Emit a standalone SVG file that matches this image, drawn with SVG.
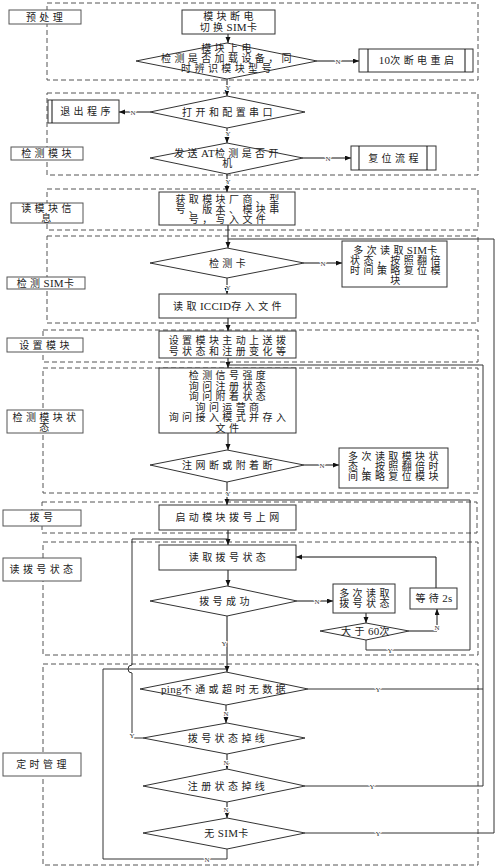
<svg xmlns="http://www.w3.org/2000/svg" width="500" height="868" viewBox="0 0 500 868">
<defs>
<marker id="ah" markerUnits="userSpaceOnUse" markerWidth="6" markerHeight="6" refX="6" refY="2.5" orient="auto"><path d="M0,0 L6,2.5 L0,5 z" fill="#111"/></marker>
<style>
.sec{fill:none;stroke:#555;stroke-width:1;stroke-dasharray:5 3}
.lbl{fill:#fff;stroke:#555;stroke-width:1}
.box{fill:#fff;stroke:#333;stroke-width:1}
.t{font-family:"Liberation Serif","Noto Sans CJK SC",serif;font-size:10px;letter-spacing:3.4px;fill:#222;text-anchor:middle}
.l{font-size:11px;letter-spacing:0.3px}
.yn{font-family:"Liberation Serif",serif;font-size:7px;fill:#333;text-anchor:middle;stroke:#fff;stroke-width:2;paint-order:stroke}
.ln{fill:none;stroke:#111;stroke-width:1}
.lp{fill:none;stroke:#333;stroke-width:1}
</style>
</defs>
<rect width="500" height="868" fill="#fff"/>
<g id="sections">
<rect class="sec" x="47" y="3" width="431" height="77"/>
<rect class="sec" x="47" y="93" width="431" height="82"/>
<rect class="sec" x="47" y="189" width="431" height="41"/>
<rect class="sec" x="47" y="236" width="431" height="87"/>
<rect class="sec" x="43" y="330" width="435" height="32"/>
<rect class="sec" x="43" y="368" width="435" height="125"/>
<rect class="sec" x="42" y="502" width="435" height="31"/>
<rect class="sec" x="43" y="542" width="435" height="113"/>
<rect class="sec" x="43" y="664" width="435" height="201"/>
</g>
<g id="connectors">
<path class="ln" marker-end="url(#ah)" d="M228,34 V43"/>
<path class="ln" marker-end="url(#ah)" d="M317,61 H359"/>
<path class="ln" marker-end="url(#ah)" d="M227,79 V96"/>
<path class="ln" marker-end="url(#ah)" d="M150,112 H119"/>
<path class="ln" marker-end="url(#ah)" d="M227,128 V143"/>
<path class="ln" marker-end="url(#ah)" d="M303,158 H351"/>
<path class="ln" marker-end="url(#ah)" d="M227,174 V192"/>
<path class="ln" marker-end="url(#ah)" d="M228,225 V248"/>
<path class="ln" marker-end="url(#ah)" d="M304,263 H342"/>
<path class="ln" marker-end="url(#ah)" d="M227,278 V294"/>
<path class="ln" marker-end="url(#ah)" d="M228,318 V331"/>
<path class="ln" marker-end="url(#ah)" d="M228,358 V368"/>
<path class="ln" marker-end="url(#ah)" d="M228,433 V450"/>
<path class="ln" marker-end="url(#ah)" d="M304,465 H339"/>
<path class="ln" marker-end="url(#ah)" d="M227,482 V505"/>
<path class="ln" marker-end="url(#ah)" d="M228,530 V545"/>
<path class="ln" marker-end="url(#ah)" d="M228,570 V586"/>
<path class="ln" marker-end="url(#ah)" d="M297,601 H333"/>
<path class="ln" marker-end="url(#ah)" d="M366,613 V623"/>
<path class="ln" marker-end="url(#ah)" d="M409,631 H437 V609"/>
<path class="ln" marker-end="url(#ah)" d="M436,588 V557 H296"/>
<path class="ln" marker-end="url(#ah)" d="M227,616 V672"/>
<path class="ln" marker-end="url(#ah)" d="M226,705 V723"/>
<path class="ln" marker-end="url(#ah)" d="M227,754 V769"/>
<path class="ln" marker-end="url(#ah)" d="M227,802 V818"/>
<path class="lp" d="M305,833 H494 V239 H228"/>
<path class="lp" d="M305,786 H483 V365 H228"/>
<path class="lp" d="M308,689 H483"/>
<path class="lp" d="M366,640 V650 H470 V500 H228"/>
<path class="lp" d="M143,738 H132 V673 A4,4 0 0 1 132,665 V539 H228"/>
<path class="lp" d="M227,849 V859 H103 V669 H227"/>
<text class="yn" x="338" y="63.5">N</text>
<text class="yn" x="228" y="89.5">Y</text>
<text class="yn" x="133" y="114.5">N</text>
<text class="yn" x="228" y="135.5">Y</text>
<text class="yn" x="328" y="160.5">N</text>
<text class="yn" x="228" y="183.5">Y</text>
<text class="yn" x="323" y="265.5">N</text>
<text class="yn" x="228" y="289.5">Y</text>
<text class="yn" x="322" y="467.5">N</text>
<text class="yn" x="228" y="495.5">Y</text>
<text class="yn" x="317" y="603.5">N</text>
<text class="yn" x="437" y="629.5">N</text>
<text class="yn" x="390" y="652.5">Y</text>
<text class="yn" x="224" y="645.5">Y</text>
<text class="yn" x="132" y="737.5">Y</text>
<text class="yn" x="378" y="691.5">Y</text>
<text class="yn" x="226" y="715.5">N</text>
<text class="yn" x="226" y="764.5">N</text>
<text class="yn" x="372" y="788.5">Y</text>
<text class="yn" x="226" y="811.5">N</text>
<text class="yn" x="378" y="835.5">Y</text>
<text class="yn" x="207" y="861.5">N</text>
</g>
<g id="lbl-yuchuli"><rect class="lbl" x="9" y="10" width="72" height="14"/><text class="t" x="46" y="21">预处理</text></g>
<g id="n-duandian"><rect class="box" x="182" y="10" width="93" height="24"/><text class="t" x="230" y="20">模块断电</text><text class="t" x="230" y="31">切换<tspan class="l">SIM</tspan>卡</text></g>
<g id="d-shangdian"><polygon class="box" points="227,43 317,61 227,79 136,61"/><text class="t" x="228" y="52">模块上电</text><text class="t" x="228" y="62">检测是否加载设备，同</text><text class="t" x="228" y="72">时辨识模块型号</text></g>
<g id="n-10ci"><rect class="box" x="359" y="49" width="114" height="23"/><path class="ln" d="M368,49 V72 M465,49 V72"/><text class="t" x="418" y="64"><tspan class="l">10</tspan>次断电重启</text></g>
<g id="d-chuankou"><polygon class="box" points="227,96 305,112 227,128 150,112"/><text class="t" x="229" y="116">打开和配置串口</text></g>
<g id="n-tuichu"><rect class="box" x="48" y="100" width="71" height="23"/><path class="ln" d="M52,100 V123"/><text class="t" x="87" y="115">退出程序</text></g>
<g id="lbl-jiancemokuai"><rect class="lbl" x="11" y="147" width="72" height="13"/><text class="t" x="48" y="157">检测模块</text></g>
<g id="d-at"><polygon class="box" points="227,143 303,158 227,174 150,158"/><text class="t" x="228" y="157">发送<tspan class="l">AT</tspan>检测是否开</text><text class="t" x="229" y="167">机</text></g>
<g id="n-fuwei"><rect class="box" x="351" y="146" width="85" height="24"/><path class="ln" d="M359,146 V170 M427,146 V170"/><text class="t" x="395" y="162">复位流程</text></g>
<g id="lbl-dumokuai"><rect class="lbl" x="11" y="203" width="72" height="20"/><text class="t" x="48" y="211.5">读模块信</text><text class="t" x="48" y="221.5">息</text></g>
<g id="n-huoqu"><rect class="box" x="159" y="192" width="136" height="33"/><text class="t" x="229" y="202.5">获取模块厂商、型</text><text class="t" x="229" y="212.5">号、版本、模块串</text><text class="t" x="229" y="222.5">号，写入文件</text></g>
<g id="d-jianceka"><polygon class="box" points="227,248 304,263 227,278 150,263"/><text class="t" x="229" y="267">检测卡</text></g>
<g id="n-simfuwei"><rect class="box" x="342" y="241" width="105" height="46"/><text class="t" x="397" y="253.5">多次读取<tspan class="l">SIM</tspan>卡</text><text class="t" x="397" y="263.5">状态，按照翻倍</text><text class="t" x="397" y="273.5">时间策略复位模</text><text class="t" x="397" y="283.5">块</text></g>
<g id="lbl-sim"><rect class="lbl" x="7" y="277" width="78" height="12"/><text class="t" x="47" y="286.5">检测<tspan class="l">SIM</tspan>卡</text></g>
<g id="n-iccid"><rect class="box" x="159" y="294" width="137" height="24"/><text class="t" x="229" y="310">读取<tspan class="l">ICCID</tspan>存入文件</text></g>
<g id="lbl-shezhi"><rect class="lbl" x="7" y="338" width="76" height="14"/><text class="t" x="46" y="349">设置模块</text></g>
<g id="n-shezhi"><rect class="box" x="159" y="331" width="137" height="27"/><text class="t" x="229" y="344">设置模块主动上送拨</text><text class="t" x="229" y="355">号状态和注册变化等</text></g>
<g id="n-jiancexinhao"><rect class="box" x="159" y="368" width="137" height="65"/><text class="t" x="229" y="379">检测信号强度</text><text class="t" x="229" y="389.5">询问注册状态</text><text class="t" x="229" y="400">询问附着状态</text><text class="t" x="229" y="410.5">询问运营商</text><text class="t" x="229" y="421">询问接入模式并存入</text><text class="t" x="229" y="431.5">文件</text></g>
<g id="lbl-zhuangtai"><rect class="lbl" x="7" y="410" width="76" height="23"/><text class="t" x="46" y="420.5">检测模块状</text><text class="t" x="46" y="430.5">态</text></g>
<g id="d-zhuwang"><polygon class="box" points="227,450 304,465 227,482 150,465"/><text class="t" x="229" y="469">注网断或附着断</text></g>
<g id="n-mokuaifuwei"><rect class="box" x="339" y="448" width="109" height="40"/><text class="t" x="395" y="460">多次读取模块状</text><text class="t" x="395" y="470">态，按照翻倍时</text><text class="t" x="395" y="480">间策略复位模块</text></g>
<g id="lbl-bohao"><rect class="lbl" x="3" y="510" width="78" height="16"/><text class="t" x="43" y="521">拨号</text></g>
<g id="n-qidong"><rect class="box" x="159" y="505" width="137" height="25"/><text class="t" x="229" y="521">启动模块拨号上网</text></g>
<g id="n-duqu"><rect class="box" x="159" y="545" width="137" height="25"/><text class="t" x="229" y="561">读取拨号状态</text></g>
<g id="lbl-dubohao"><rect class="lbl" x="3" y="558" width="78" height="23"/><text class="t" x="43" y="573">读拨号状态</text></g>
<g id="d-chenggong"><polygon class="box" points="227,586 297,601 227,616 150,601"/><text class="t" x="226" y="605">拨号成功</text></g>
<g id="n-duoci"><rect class="box" x="333" y="584" width="62" height="29"/><text class="t" x="366" y="597">多次读取</text><text class="t" x="366" y="607">拨号状态</text></g>
<g id="d-60ci"><polygon class="box" points="366,623 409,631 366,640 320,631"/><text class="t" x="367" y="635">大于<tspan class="l">60</tspan>次</text></g>
<g id="n-dengdai"><rect class="box" x="410" y="588" width="47" height="21"/><text class="t" x="434" y="602">等待<tspan class="l">2s</tspan></text></g>
<g id="lbl-dingshi"><rect class="lbl" x="3" y="753" width="78" height="23"/><text class="t" x="43" y="768">定时管理</text></g>
<g id="d-ping"><polygon class="box" points="226,672 308,689 226,705 140,689"/><text class="t" x="225" y="693"><tspan class="l">ping</tspan>不通或超时无数据</text></g>
<g id="d-bohaodiaoxian"><polygon class="box" points="227,723 305,738 227,754 143,738"/><text class="t" x="228" y="742">拨号状态掉线</text></g>
<g id="d-zhucediaoxian"><polygon class="box" points="227,769 305,786 227,802 143,786"/><text class="t" x="228" y="790">注册状态掉线</text></g>
<g id="d-wusim"><polygon class="box" points="227,818 305,833 227,849 143,833"/><text class="t" x="228" y="837">无<tspan class="l">SIM</tspan>卡</text></g>
</svg>
